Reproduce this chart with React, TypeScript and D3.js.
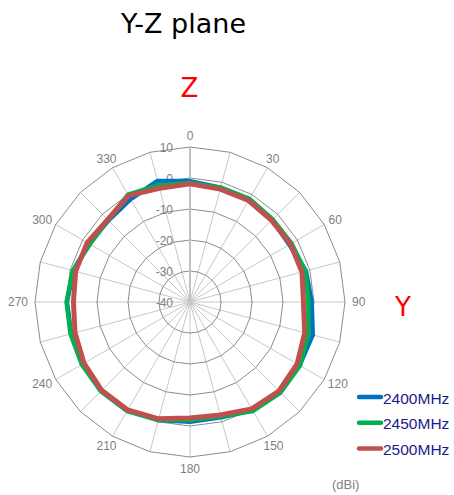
import React from "react";
import * as d3 from "d3";

const angles = [0, 15, 30, 45, 60, 75, 90, 105, 120, 135, 150, 165, 180, 195, 210, 225, 240, 255, 270, 285, 300, 315, 330, 345];
const s2400 = [-1.0, -1.8, -1.8, -2.5, -3.0, -1.3, -0.75, 1.0, 0.8, 1.0, 0.3, -1.5, -1.4, -0.6, 0.4, 0.5, 0.0, -0.3, -0.3, -1.0, -2.3, -2.8, -1.7, 0.45];
const s2450 = [-1.6, -1.8, -1.6, -2.3, -2.2, -1.5, -1.8, -0.5, 1.0, 1.3, 0.6, -1.8, -1.9, -0.6, 0.6, 0.7, 0.3, -0.1, -0.2, -0.9, -2.7, -2.6, 0.0, -1.0];
const s2500 = [-1.9, -2.3, -2.2, -2.8, -2.6, -2.6, -3.4, -1.7, -0.1, 0.6, -0.2, -2.3, -2.6, -1.0, 0.2, 0.3, -0.5, -1.6, -2.4, -1.8, -1.7, -2.4, -0.4, -2.0];
const seriesNames = ["2400MHz", "2450MHz", "2500MHz"];
const seriesColors = ["#0070C0", "#00B050", "#C0504D"];
const radialTicks = [-40, -30, -20, -10, 0, 10];
const angleLabels = [0, 30, 60, 90, 120, 150, 180, 210, 240, 270, 300, 330];

export default function App() {
  const W = 454, H = 495;
  const cx = 190, cy = 302;
  const r = d3.scaleLinear().domain([-40, 10]).range([0, 155]);
  const a = d3.scaleLinear().domain([0, 360]).range([0, 2 * Math.PI]);
  const pt = (deg: number, rad: number): [number, number] => [
    cx + Math.sin(a(deg)) * rad,
    cy - Math.cos(a(deg)) * rad,
  ];
  const ring = (v: number) =>
    angles.map((d) => pt(d, r(v)).join(",")).join(" ");
  const line = d3
    .lineRadial<number>()
    .angle((_, i) => a(angles[i]))
    .radius((v) => r(v))
    .curve(d3.curveLinearClosed);
  const data = [s2400, s2450, s2500];
  const widths = [4.5, 4.5, 5];
  const labelFont = "'Liberation Sans', Arial, sans-serif";
  const bigFont = "'DejaVu Sans', Verdana, sans-serif";

  return (
    <svg
      width={W}
      height={H}
      style={{ position: "absolute", left: 0, top: 0, display: "block", background: "#fff" }}
    >
      <text x={183.5} y={33} textAnchor="middle" fontFamily={bigFont} fontSize={27} fill="#000">
        Y-Z plane
      </text>
      <text x={189.5} y={97} textAnchor="middle" fontFamily={bigFont} fontSize={26} fill="#FF0000">
        Z
      </text>
      <text x={403} y={316} textAnchor="middle" fontFamily={bigFont} fontSize={26} fill="#FF0000">
        Y
      </text>

      {/* spokes */}
      {angles.map((d) => {
        const [x2, y2] = pt(d, r(10));
        return (
          <line key={"sp" + d} x1={cx} y1={cy} x2={x2} y2={y2} stroke="#c8c8c8" strokeWidth={1} />
        );
      })}
      {/* rings */}
      {radialTicks.slice(1).map((v) => (
        <polygon key={"rg" + v} points={ring(v)} fill="none" stroke="#8c8c8c" strokeWidth={1} />
      ))}
      {/* value axis */}
      <line x1={cx} y1={cy} x2={cx} y2={cy - r(10)} stroke="#c0c0c0" strokeWidth={2} />

      {/* radial tick labels */}
      {radialTicks.map((v) => (
        <text
          key={"rt" + v}
          x={cx - 17}
          y={cy - r(v) + 1}
          dy="0.35em"
          textAnchor="end"
          fontFamily={labelFont}
          fontSize={12}
          fill="#808080"
        >
          {v}
        </text>
      ))}

      {/* angle labels */}
      {angleLabels.map((d) => {
        const s = String(d);
        const w = s.length * 0.556 * 12;
        const h = 9;
        const R = 162;
        const x = cx + Math.sin(a(d)) * (R + w / 2 * Math.abs(Math.sin(a(d))));
        const y = cy - Math.cos(a(d)) * (R + h / 2 * Math.abs(Math.cos(a(d))));
        return (
          <text
            key={"al" + d}
            x={x}
            y={y}
            dy="0.35em"
            textAnchor="middle"
            fontFamily={labelFont}
            fontSize={12}
            fill="#808080"
          >
            {s}
          </text>
        );
      })}

      {/* series */}
      {data.map((vals, i) => (
        <path
          key={"s" + i}
          d={line(vals) || ""}
          transform={`translate(${cx},${cy})`}
          fill="none"
          stroke={seriesColors[i]}
          strokeWidth={widths[i]}
          strokeLinejoin="round"
        />
      ))}

      {/* legend */}
      {seriesNames.map((n, i) => {
        const y = 397 + i * 25.7;
        return (
          <g key={"lg" + i}>
            <line x1={359} x2={381} y1={y} y2={y} stroke={seriesColors[i]} strokeWidth={4.5} strokeLinecap="round" />
            <text x={383} y={y + 6.5} fontFamily={labelFont} fontSize={15.5} fill="#1a1a8a">
              {n}
            </text>
          </g>
        );
      })}
      <text x={332} y={489} fontFamily={labelFont} fontSize={13} fill="#808080">
        (dBi)
      </text>
    </svg>
  );
}
